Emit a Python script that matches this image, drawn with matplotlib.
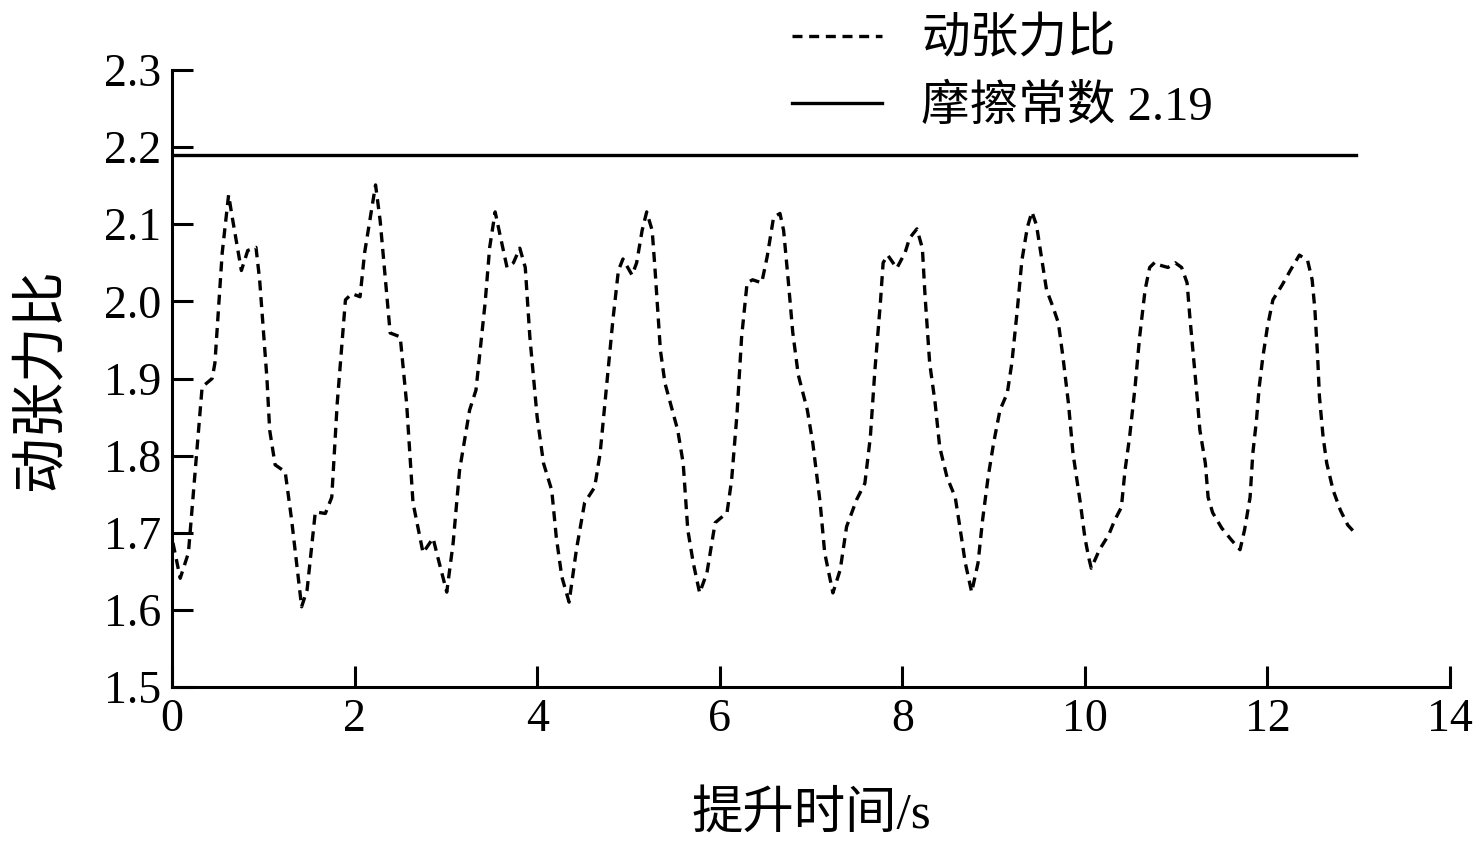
import matplotlib
matplotlib.use("Agg")
import matplotlib.pyplot as plt

plt.rcParams['font.family'] = ['Liberation Serif', 'Noto Sans CJK SC']
plt.rcParams['axes.unicode_minus'] = False

# Dynamic tension ratio
time_s = [0.01, 0.09, 0.18, 0.27, 0.33, 0.44, 0.47, 0.55, 0.62, 0.66, 0.76, 0.83, 0.92, 0.96,
          1.04, 1.07, 1.13, 1.24, 1.31, 1.42, 1.48, 1.57, 1.68, 1.75, 1.81, 1.90, 1.97, 2.06,
          2.11, 2.23, 2.28, 2.39, 2.50, 2.57, 2.64, 2.75, 2.86, 2.91, 3.01, 3.08, 3.15, 3.26,
          3.33, 3.43, 3.48, 3.54, 3.59, 3.67, 3.74, 3.81, 3.87, 3.92, 4.00, 4.07, 4.16, 4.21,
          4.27, 4.35, 4.43, 4.52, 4.63, 4.69, 4.76, 4.83, 4.89, 4.94, 5.04, 5.09, 5.15, 5.20,
          5.26, 5.29, 5.35, 5.40, 5.48, 5.54, 5.60, 5.65, 5.71, 5.78, 5.86, 5.95, 6.08, 6.13,
          6.19, 6.24, 6.30, 6.36, 6.46, 6.52, 6.59, 6.66, 6.70, 6.75, 6.80, 6.86, 6.96, 7.02,
          7.10, 7.15, 7.24, 7.32, 7.39, 7.50, 7.59, 7.65, 7.70, 7.76, 7.79, 7.84, 7.94, 8.03,
          8.08, 8.16, 8.22, 8.25, 8.30, 8.36, 8.41, 8.49, 8.58, 8.63, 8.69, 8.76, 8.83, 8.88,
          8.94, 9.00, 9.07, 9.15, 9.20, 9.26, 9.31, 9.37, 9.42, 9.47, 9.53, 9.58, 9.65, 9.71,
          9.76, 9.82, 9.87, 9.95, 10.00, 10.04, 10.07, 10.16, 10.26, 10.33, 10.40, 10.44, 10.49,
          10.55, 10.60, 10.66, 10.71, 10.77, 10.82, 10.91, 10.99, 11.06, 11.12, 11.15, 11.19,
          11.23, 11.26, 11.32, 11.35, 11.40, 11.50, 11.61, 11.70, 11.75, 11.81, 11.84, 11.88,
          11.91, 11.95, 12.00, 12.06, 12.16, 12.25, 12.35, 12.44, 12.49, 12.52, 12.55, 12.57,
          12.61, 12.65, 12.72, 12.80, 12.88, 12.98]
tension_ratio = [1.687, 1.641, 1.674, 1.803, 1.889, 1.900, 1.920, 2.063, 2.138, 2.109, 2.040, 2.066,
                 2.070, 2.028, 1.900, 1.833, 1.788, 1.779, 1.717, 1.604, 1.626, 1.727, 1.725, 1.746,
                 1.868, 2.002, 2.010, 2.006, 2.063, 2.151, 2.105, 1.959, 1.954, 1.868, 1.739, 1.674,
                 1.693, 1.669, 1.623, 1.687, 1.781, 1.859, 1.885, 1.998, 2.070, 2.116, 2.088, 2.044,
                 2.050, 2.069, 2.044, 1.954, 1.850, 1.790, 1.755, 1.694, 1.643, 1.610, 1.678, 1.739,
                 1.759, 1.803, 1.889, 1.976, 2.040, 2.055, 2.034, 2.050, 2.092, 2.116, 2.092, 2.044,
                 1.937, 1.894, 1.859, 1.833, 1.790, 1.704, 1.661, 1.622, 1.648, 1.713, 1.726, 1.768,
                 1.855, 1.954, 2.024, 2.028, 2.024, 2.058, 2.109, 2.114, 2.092, 2.028, 1.960, 1.905,
                 1.859, 1.816, 1.739, 1.674, 1.622, 1.652, 1.708, 1.743, 1.764, 1.824, 1.911, 1.998,
                 2.050, 2.060, 2.043, 2.063, 2.082, 2.094, 2.069, 2.006, 1.920, 1.868, 1.811, 1.772,
                 1.746, 1.708, 1.661, 1.623, 1.661, 1.717, 1.772, 1.816, 1.859, 1.881, 1.920, 1.989,
                 2.053, 2.096, 2.116, 2.099, 2.053, 2.015, 1.993, 1.972, 1.928, 1.868, 1.803, 1.739,
                 1.694, 1.669, 1.654, 1.678, 1.697, 1.717, 1.733, 1.781, 1.824, 1.889, 1.954, 2.015,
                 2.044, 2.051, 2.047, 2.044, 2.050, 2.044, 2.024, 1.980, 1.928, 1.876, 1.833, 1.790,
                 1.746, 1.726, 1.706, 1.690, 1.678, 1.704, 1.746, 1.803, 1.846, 1.889, 1.928, 1.967,
                 2.002, 2.021, 2.040, 2.060, 2.053, 2.028, 1.989, 1.928, 1.876, 1.824, 1.790, 1.755,
                 1.729, 1.710, 1.697]

friction_const = 2.19
friction_x = [0, 12.97]

label_dyn = '动张力比'
label_fric = '摩擦常数 2.19'
xlabel = '提升时间/s'
ylabel = '动张力比'
xticks = [0, 2, 4, 6, 8, 10, 12, 14]
yticks = [1.5, 1.6, 1.7, 1.8, 1.9, 2.0, 2.1, 2.2, 2.3]
ytick_labels = ['1.5', '1.6', '1.7', '1.8', '1.9', '2.0', '2.1', '2.2', '2.3']

fig = plt.figure(figsize=(14.8, 8.52), dpi=100)
ax = fig.add_axes([172/1480, 1-687/852, (1450-172)/1480, (687-70)/852])

l1, = ax.plot(time_s, tension_ratio, color='black', lw=2.4, linestyle=(0, (3, 2)))
l2, = ax.plot(friction_x, [friction_const, friction_const], color='black', lw=2.4)

ax.set_xlim(0, 14)
ax.set_ylim(1.5, 2.3)
ax.set_xticks(xticks)
ax.set_yticks(yticks)
ax.set_yticklabels(ytick_labels)
ax.spines['top'].set_visible(False)
ax.spines['right'].set_visible(False)
for s in ['left', 'bottom']:
    ax.spines[s].set_linewidth(2.2)
ax.tick_params(direction='in', length=15, width=2.2, labelsize=33, pad=8)

ax.set_xlabel(xlabel, fontsize=37, labelpad=36)
ax.set_ylabel(ylabel, fontsize=40, labelpad=26)

fig.legend([l1, l2], [label_dyn, label_fric], loc='upper left',
           bbox_to_anchor=(768/1480, 1.008), frameon=False, fontsize=35,
           handlelength=1.85, handletextpad=0.8, labelspacing=0.45, borderpad=0.0)

fig.savefig('out.png', dpi=100)
